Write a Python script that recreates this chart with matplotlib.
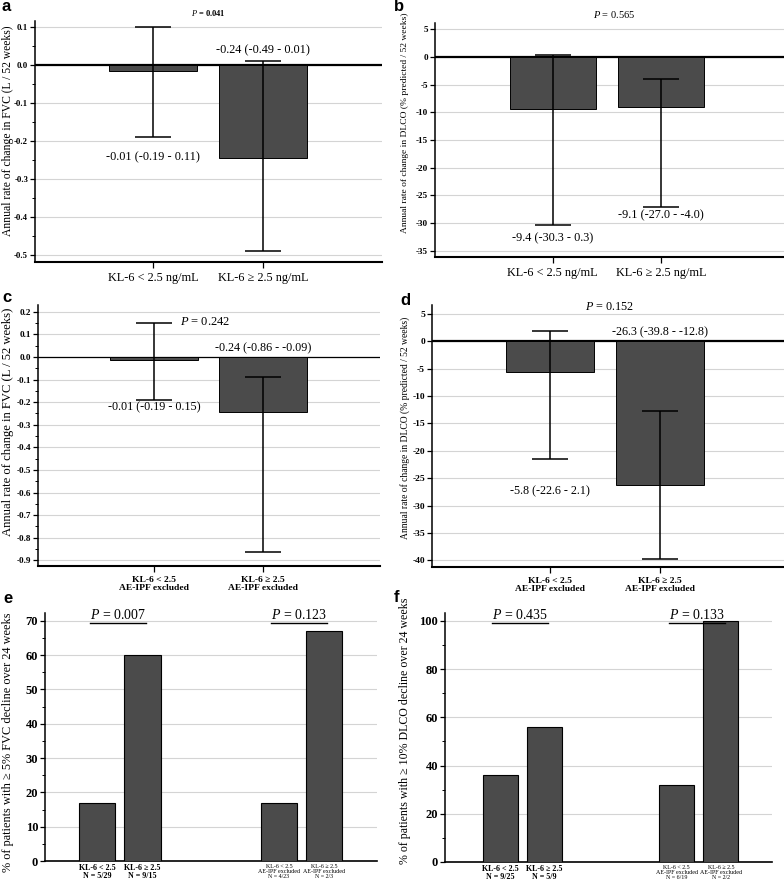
import matplotlib
matplotlib.use("Agg")
import matplotlib.pyplot as plt
from matplotlib.ticker import MultipleLocator, FormatStrFormatter
from matplotlib.lines import Line2D

plt.rcParams['font.family'] = ['Liberation Serif', 'DejaVu Serif']
plt.rcParams['mathtext.fontset'] = 'custom'
plt.rcParams['mathtext.rm'] = 'Liberation Serif'
plt.rcParams['mathtext.it'] = 'Liberation Serif:italic'
plt.rcParams['axes.unicode_minus'] = False

# ---------------- data ----------------
groups_ab = ["KL-6 < 2.5 ng/mL", "KL-6 ≥ 2.5 ng/mL"]
groups_cd = ["KL-6 < 2.5\nAE-IPF excluded", "KL-6 ≥ 2.5\nAE-IPF excluded"]

fvc_all = [-0.015, -0.245]
fvc_all_lo = [-0.19, -0.49]
fvc_all_hi = [0.10, 0.01]
fvc_all_text = ["-0.01 (-0.19 - 0.11)", "-0.24 (-0.49 - 0.01)"]
p_a = "0.041"

dlco_all = [-9.4, -9.1]
dlco_all_lo = [-30.3, -27.0]
dlco_all_hi = [0.3, -4.0]
dlco_all_text = ["-9.4 (-30.3 - 0.3)", "-9.1 (-27.0 - -4.0)"]
p_b = "0.565"

fvc_excl = [-0.015, -0.245]
fvc_excl_lo = [-0.19, -0.865]
fvc_excl_hi = [0.15, -0.09]
fvc_excl_text = ["-0.01 (-0.19 - 0.15)", "-0.24 (-0.86 - -0.09)"]
p_c = "0.242"

dlco_excl = [-5.7, -26.3]
dlco_excl_lo = [-21.5, -39.7]
dlco_excl_hi = [1.8, -12.8]
dlco_excl_text = ["-5.8 (-22.6 - 2.1)", "-26.3 (-39.8 - -12.8)"]
p_d = "0.152"

groups_e = ["KL-6 < 2.5\nN = 5/29", "KL-6 ≥ 2.5\nN = 9/15",
            "KL-6 < 2.5\nAE-IPF excluded\nN = 4/23", "KL-6 ≥ 2.5\nAE-IPF excluded\nN = 2/3"]
pct_fvc = [17, 60, 17, 67]
p_e = ["0.007", "0.123"]

groups_f = ["KL-6 < 2.5\nN = 9/25", "KL-6 ≥ 2.5\nN = 5/9",
            "KL-6 < 2.5\nAE-IPF excluded\nN = 6/19", "KL-6 ≥ 2.5\nAE-IPF excluded\nN = 2/2"]
pct_dlco = [36, 56, 32, 100]
p_f = ["0.435", "0.133"]

# ---------------- layout helpers ----------------
W, H = 784, 884
fig = plt.figure(figsize=(W / 100, H / 100), dpi=100)

BAR_COLOR = "#4b4b4b"


def ax_px(l, t, r, b):
    return fig.add_axes([l / W, 1 - b / H, (r - l) / W, (b - t) / H])


def fig_text_px(x, y, s, **kw):
    return fig.text(x / W, 1 - y / H, s, **kw)


def style_axes(ax, ytick_size, zero_lw=None):
    for s in ("top", "right"):
        ax.spines[s].set_visible(False)
    ax.spines["left"].set_linewidth(1.1)
    ax.spines["bottom"].set_linewidth(1.5)
    ax.yaxis.grid(True, which="major", color="#d4d4d4", linewidth=0.8)
    ax.set_axisbelow(True)
    ax.tick_params(axis="y", which="major", length=3.5, width=0.9, pad=1.5,
                   labelsize=ytick_size)
    ax.tick_params(axis="y", which="minor", length=2, width=0.7)
    if zero_lw:
        ax.axhline(0, color="black", linewidth=zero_lw, zorder=2)


def err_panel(ax, xlim, ylim, vals, lo, hi, texts, specs, groups, xt_size,
              xt_bold, ytick_size, major, minor, fmt, zero_lw, text_size):
    pos = list(range(len(vals)))
    ax.bar(pos, vals, width=0.8, color=BAR_COLOR, edgecolor="black",
           linewidth=0.7, zorder=3)
    yerr = [[v - l for v, l in zip(vals, lo)], [h - v for v, h in zip(vals, hi)]]
    ax.errorbar(pos, vals, yerr=yerr, fmt="none", ecolor="black",
                elinewidth=1.1, capsize=13.3, capthick=1.1, zorder=4)
    ax.set_xlim(*xlim)
    ax.set_ylim(*ylim)
    ax.yaxis.set_major_locator(MultipleLocator(major))
    if minor:
        ax.yaxis.set_minor_locator(MultipleLocator(minor))
    ax.yaxis.set_major_formatter(FormatStrFormatter(fmt))
    ax.set_xticks(pos)
    ax.set_xticklabels(groups, fontsize=xt_size,
                       fontweight="bold" if xt_bold else "normal",
                       linespacing=1.1)
    ax.tick_params(axis="x", length=4, width=0.9, pad=3)
    style_axes(ax, ytick_size, zero_lw)
    for i, (t, (anchor, off)) in enumerate(zip(texts, specs)):
        y = lo[i] if anchor == "lo" else max(hi[i], 0)
        ax.annotate(t, (pos[i], y), xytext=(0, off), textcoords="offset points",
                    ha="center", va="center", fontsize=text_size, zorder=5)


def pct_panel(ax, xlim, ylim, vals, groups, pvals, major, minor):
    pos = [0, 1, 4, 5]
    ax.bar(pos, vals, width=0.8, color=BAR_COLOR, edgecolor="black",
           linewidth=0.8, zorder=3)
    ax.set_xlim(*xlim)
    ax.set_ylim(*ylim)
    ax.yaxis.set_major_locator(MultipleLocator(major))
    ax.yaxis.set_minor_locator(MultipleLocator(minor))
    ax.set_xticks(pos)
    ax.set_xticklabels(groups, linespacing=1.05)
    labs = ax.get_xticklabels()
    for i, lab in enumerate(labs):
        if i < 2:
            lab.set_fontsize(5.8)
            lab.set_fontweight("bold")
        else:
            lab.set_fontsize(4.3)
    ax.tick_params(axis="x", length=0, pad=2)
    style_axes(ax, 9.0)
    ax.spines["bottom"].set_linewidth(1.2)
    txts = []
    for k, p in enumerate(pvals):
        xc = (pos[2 * k] + pos[2 * k + 1]) / 2 - 0.05
        t = ax.text(xc, ylim[1] - (ylim[1] - ylim[0]) * 0.024, f"$P$ = {p}",
                    ha="center", va="baseline", fontsize=10)
        txts.append(t)
    return txts


# ---------------- panel a ----------------
ax_a = ax_px(35, 21, 382, 262)
err_panel(ax_a, (-1.073, 2.08), (-0.518, 0.1166), fvc_all, fvc_all_lo, fvc_all_hi,
          fvc_all_text, [("lo", -14.3), ("top", 8.0)], groups_ab, 8.8, False,
          6.3, 0.1, 0.05, "%.1f", 1.6, 8.8)
ax_a.text(0.5, 1.035, f"$P$ = {p_a}", transform=ax_a.get_xaxis_transform(),
          ha="center", va="center", fontsize=6, fontweight="bold")
fig_text_px(8.5, 131, "Annual rate of change in FVC (L / 52 weeks)",
            rotation=90, ha="center", va="center", fontsize=8.4)

# ---------------- panel b ----------------
ax_b = ax_px(435, 23, 784, 257)
err_panel(ax_b, (-1.09, 2.14), (-36.1, 6.1), dlco_all, dlco_all_lo, dlco_all_hi,
          dlco_all_text, [("lo", -9.4), ("lo", -6.5)], groups_ab, 8.8, False,
          6.6, 5, None, "%d", 1.6, 8.8)
ax_b.text(0.57, 1.038, f"$P$ = {p_b}", transform=ax_b.get_xaxis_transform(),
          ha="center", va="center", fontsize=7.5)
fig_text_px(405, 123, "Annual rate of change in DLCO (% predicted / 52 weeks)",
            rotation=90, ha="center", va="center", fontsize=6.8)

# ---------------- panel c ----------------
ax_c = ax_px(38, 305, 380, 566)
err_panel(ax_c, (-1.06, 2.07), (-0.925, 0.23), fvc_excl, fvc_excl_lo, fvc_excl_hi,
          fvc_excl_text, [("lo", -5.5), ("top", 6.5)], groups_cd, 6.8, True,
          6.6, 0.1, 0.05, "%.1f", 0.9, 8.7)
ax_c.text(0.47, 0.155, f"$P$ = {p_c}", ha="center", va="center", fontsize=9)
fig_text_px(8.5, 422, "Annual rate of change in FVC (L / 52 weeks)",
            rotation=90, ha="center", va="center", fontsize=9.1)

# ---------------- panel d ----------------
ax_d = ax_px(432, 305, 784, 567)
err_panel(ax_d, (-1.07, 2.13), (-41.2, 6.6), dlco_excl, dlco_excl_lo, dlco_excl_hi,
          dlco_excl_text, [("lo", -23.0), ("top", 6.5)], groups_cd, 6.8, True,
          6.8, 5, None, "%d", 1.6, 8.7)
ax_d.text(0.54, 6.2, f"$P$ = {p_d}", ha="center", va="center", fontsize=8.7)
fig_text_px(405, 428, "Annual rate of change in DLCO (% predicted / 52 weeks)",
            rotation=90, ha="center", va="center", fontsize=6.9)

# ---------------- panel e ----------------
ax_e = ax_px(45, 613, 377, 861)
te = pct_panel(ax_e, (-1.15, 6.16), (0, 72.3), pct_fvc, groups_e, p_e, 10, 5)
fig_text_px(8, 742, "% of patients with ≥ 5% FVC decline over 24 weeks",
            rotation=90, ha="center", va="center", fontsize=8.8)

# ---------------- panel f ----------------
ax_f = ax_px(445, 613, 772, 862)
tf = pct_panel(ax_f, (-1.25, 6.16), (0, 103.3), pct_dlco, groups_f, p_f, 20, 10)
fig_text_px(405, 731, "% of patients with ≥ 10% DLCO decline over 24 weeks",
            rotation=90, ha="center", va="center", fontsize=8.6)

# underline the P values of panels e and f, bold y tick labels
fig.canvas.draw()
for ax in (ax_a, ax_b, ax_c, ax_d, ax_e, ax_f):
    for lab in ax.get_yticklabels():
        lab.set_fontweight("bold")
renderer = fig.canvas.get_renderer()
for t in te + tf:
    bb = t.get_window_extent(renderer)
    y = bb.y0 - 1.0
    fig.add_artist(Line2D([bb.x0 / W, bb.x1 / W], [y / H, y / H],
                          transform=fig.transFigure, color="black", linewidth=1.0))

# ---------------- panel letters ----------------
for (x, y, s) in [(1, 11, "a"), (394, 11, "b"), (2, 302, "c"), (400, 305, "d"),
                  (3, 603, "e"), (394, 602, "f")]:
    fig_text_px(x, y, s, fontsize=12, fontweight="bold", ha="left", va="baseline",
                family=["Liberation Sans", "DejaVu Sans"])

fig.savefig("out.png", dpi=100)
